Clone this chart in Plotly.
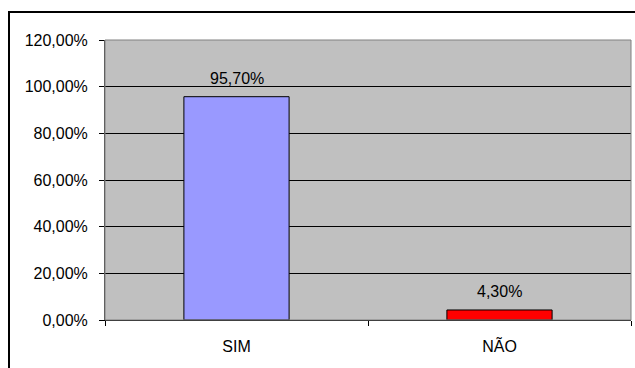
import plotly.graph_objects as go

# Survey answers and their shares (percent)
categories = ["SIM", "NÃO"]
values = [95.70, 4.30]
bar_colors = ["#9999FF", "#FF0000"]
y_ticks = [0, 20, 40, 60, 80, 100, 120]
y_tick_labels = ["0,00%", "20,00%", "40,00%", "60,00%", "80,00%", "100,00%", "120,00%"]


def pt_br(v):
    return f"{v:.2f}".replace(".", ",") + "%"


W, H = 635, 368
L, R, T, B = 105, 4, 40, 48

fig = go.Figure()
fig.add_trace(go.Bar(
    x=categories,
    y=values,
    width=0.4,
    marker=dict(color=bar_colors, line=dict(color="#000000", width=1)),
    hoverinfo="skip",
))

# value labels above each bar
for c, v in zip(categories, values):
    fig.add_annotation(
        x=c, y=v, text=pt_br(v), showarrow=False,
        yanchor="bottom", yshift=8,
        font=dict(family="Liberation Sans, Arial, sans-serif", size=16, color="#000000"),
    )

pw = W - L - R
ph = H - T - B
# outer chart frame
fig.add_shape(
    type="rect", xref="paper", yref="paper",
    x0=(9 - L) / pw, x1=(W + 10 - L) / pw,
    y0=(H - B - (H + 10)) / ph, y1=(H - B - 12) / ph,
    line=dict(color="#000000", width=2), fillcolor="rgba(0,0,0,0)", layer="below",
)
# plot area border (gray)
fig.add_shape(
    type="rect", xref="paper", yref="paper", x0=0, x1=1, y0=0, y1=1,
    line=dict(color="#808080", width=1), fillcolor="rgba(0,0,0,0)", layer="above",
)

fig.update_layout(
    width=W, height=H,
    margin=dict(l=L, r=R, t=T, b=B, pad=0),
    paper_bgcolor="#FFFFFF",
    plot_bgcolor="#C0C0C0",
    showlegend=False,
    bargap=0.6,
    font=dict(family="Liberation Sans, Arial, sans-serif", size=16, color="#000000"),
    xaxis=dict(
        type="category",
        tickson="boundaries",
        ticks="outside", ticklen=5, tickcolor="#000000", tickwidth=1,
        showline=True, linecolor="#000000", linewidth=1,
        showgrid=False, zeroline=False,
        ticklabelstandoff=12,
        tickfont=dict(size=16),
    ),
    yaxis=dict(
        range=[0, 120],
        tickvals=y_ticks, ticktext=y_tick_labels,
        ticks="outside", ticklen=5, tickcolor="#000000", tickwidth=1,
        showline=True, linecolor="#404040", linewidth=1,
        showgrid=True, gridcolor="#000000", gridwidth=1,
        zeroline=False,
        ticklabelstandoff=8,
        tickfont=dict(size=16),
    ),
)

fig.write_html("out.html")
